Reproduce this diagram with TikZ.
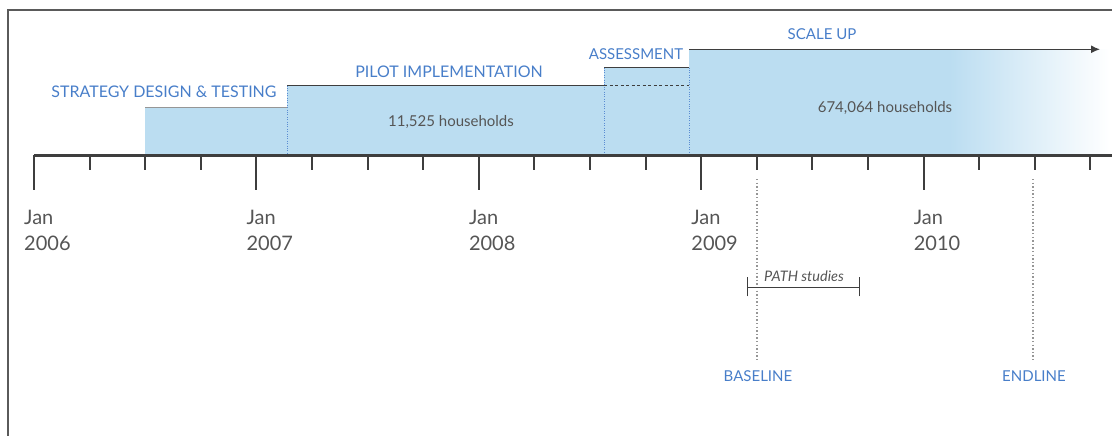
\documentclass[tikz,border=0pt]{standalone}
\usepackage{fontspec}
\setmainfont{Lato}
\usetikzlibrary{arrows.meta}
\definecolor{boxblue}{RGB}{187,221,241}
\definecolor{labelblue}{RGB}{72,126,201}
\definecolor{dotblue}{RGB}{90,140,210}
\definecolor{darkline}{RGB}{62,62,62}
\definecolor{txtgray}{RGB}{85,85,85}
\definecolor{framegray}{RGB}{90,90,90}
\definecolor{dotgray}{RGB}{150,150,150}
\definecolor{lightedge}{RGB}{150,150,150}
\begin{document}
\begin{tikzpicture}[x=1pt,y=-1pt,
  phase/.style={font=\fontsize{15}{18}\selectfont, text=labelblue, inner sep=0pt},
  widephase/.style={phase, font=\fontsize{16}{19}\selectfont},
  count/.style={font=\fontsize{15}{18}\selectfont, text=txtgray, inner sep=0pt},
  datelbl/.style={font=\fontsize{20}{24}\selectfont, text=txtgray, anchor=base west, inner sep=0pt},
  studylbl/.style={font=\fontsize{14.5}{17}\selectfont\itshape, text=txtgray, inner sep=0pt},
  topedge/.style={draw=darkline, line width=1.3pt},
  phasesep/.style={draw=dotblue, line width=0.8pt, dash pattern=on 0.8pt off 1.6pt},
  survey/.style={draw=dotgray, line width=1.4pt, dash pattern=on 1.4pt off 2.2pt},
  bracketline/.style={draw=darkline, line width=1.3pt}]
\useasboundingbox (0,0) rectangle (1112,436);
% frame
\draw[framegray, line width=2pt] (8,437) -- (8,10) -- (1113,10);
% phase areas
\fill[boxblue] (145,107.7) rectangle (287,155);
\fill[boxblue] (287,85.7) rectangle (604,155);
\fill[boxblue] (604,67.7) rectangle (689,155);
\fill[boxblue] (689,49.3) rectangle (950,155);
\shade[left color=boxblue, middle color=boxblue!60!white, right color=white] (949.5,49.3) rectangle (1110,155);
% coordinates
\coordinate (s1) at (145,107.7);
\coordinate (s2) at (287,107.7);
\coordinate (p1) at (287,85.7);
\coordinate (p2) at (604,85.7);
\coordinate (a1) at (604,67.7);
\coordinate (a2) at (689,67.7);
\coordinate (a3) at (689,85.7);
\coordinate (u1) at (689,49.3);
\coordinate (u2) at (1100,49.3);
\coordinate (b1) at (287,155);
\coordinate (b2) at (604,155);
\coordinate (b3) at (689,155);
% top edges
\draw[draw=lightedge, line width=1.6pt] (s1) -- (s2);
\draw[topedge] (p1) -- (p2);
\draw[topedge] (a1) -- (a2);
\draw[draw=darkline, line width=1pt, dash pattern=on 3pt off 2.5pt] (p2) -- (a3);
\draw[topedge, -{Latex[length=9pt,width=8pt]}] (u1) -- (u2);
% separators
\draw[phasesep] (p1) -- (b1);
\draw[phasesep] (a1) -- (b2);
\draw[phasesep] (a2) -- (b3);
% phase labels
\node[widephase] (lstrat) at (164,92) {STRATEGY DESIGN \& TESTING};
\node[widephase] (lpilot) at (449,72) {PILOT IMPLEMENTATION};
\node[phase] (lassess) at (636,54) {ASSESSMENT};
\node[phase] (lscale) at (822,34) {SCALE UP};
\node[count] (hh1) at (451,122) {11,525 households};
\node[count] (hh2) at (885,108) {674,064 households};
% axis
\coordinate (ax0) at (34,155);
\coordinate (ax1) at (1112,155);
\draw[darkline, line width=3pt] (ax0) -- (ax1);
\foreach \i in {0,...,19}{
  \pgfmathsetmacro{\xx}{34+\i*55.6}
  \pgfmathtruncatemacro{\mm}{mod(\i,4)}
  \ifnum\mm=0
    \draw[darkline, line width=2pt] (\xx,155) -- (\xx,190);
  \else
    \draw[darkline, line width=2pt] (\xx,155) -- (\xx,170);
  \fi
}
% date labels
\foreach \yr [count=\k from 0] in {2006,2007,2008,2009,2010}{
  \pgfmathsetmacro{\xx}{24+\k*222.4}
  \node[datelbl] (jan\yr) at (\xx,224) {Jan};
  \node[datelbl] (yr\yr) at (\xx,250) {\yr};
}
% survey markers
\node[phase] (base) at (758,376) {BASELINE};
\node[phase] (end) at (1034,376) {ENDLINE};
\coordinate (bt) at (757,179);
\coordinate (bb) at (757,361);
\coordinate (et) at (1033,179);
\coordinate (eb) at (1033,361);
\draw[survey] (bt) -- (bb);
\draw[survey] (et) -- (eb);
% PATH studies bracket
\coordinate (ps) at (747.3,287.3);
\coordinate (pe) at (859.3,287.3);
\draw[bracketline] (ps) -- (pe);
\draw[bracketline] ([yshift=-9pt]ps) -- ([yshift=10pt]ps);
\draw[bracketline] ([yshift=-9pt]pe) -- ([yshift=10pt]pe);
\node[studylbl] (path) at (804,276) {PATH studies};
\end{tikzpicture}
\end{document}
